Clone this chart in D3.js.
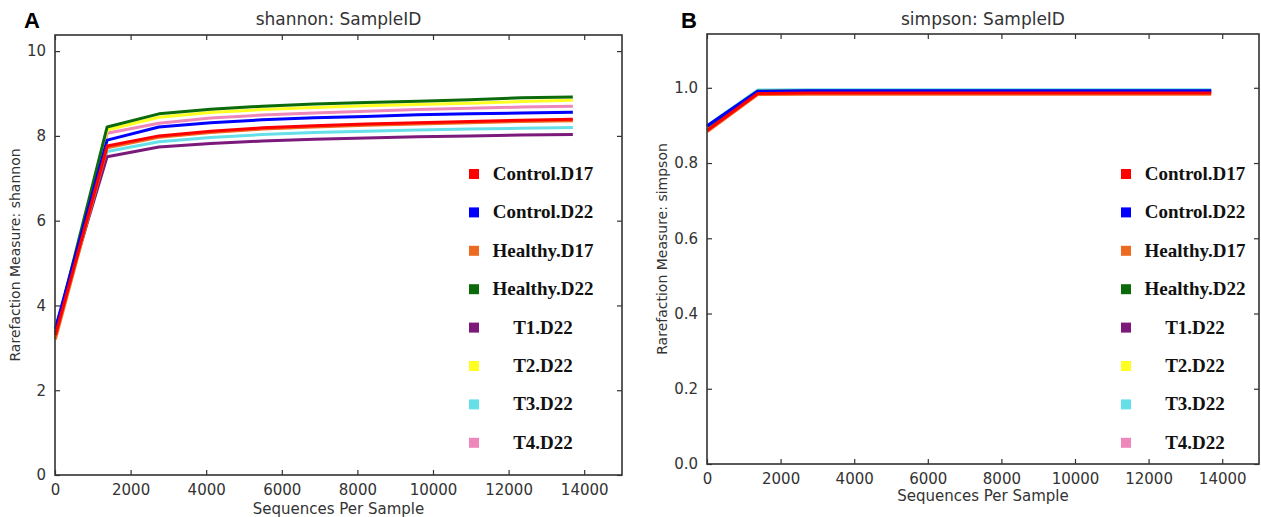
<!DOCTYPE html>
<meta charset="utf-8">
<style>
  body { margin: 0; background: #fff; }
  text { font-family: "DejaVu Sans", sans-serif; }
</style>
<svg width="1261" height="517"></svg>
<script src="https://d3js.org/d3.v7.min.js"></script>
<script>

    // rarefaction depths (x)
    var depths = [10, 1379, 2748, 4117, 5486, 6855, 8224, 9593, 10962, 12331, 13700];

    var groups = ["Control.D17", "Control.D22", "Healthy.D17", "Healthy.D22", "T1.D22", "T2.D22", "T3.D22", "T4.D22"];
    var colors = ["#ff0000", "#0000ff", "#ee6a20", "#0b6b0b", "#7b1a7b", "#ffff22", "#66e0e8", "#ee88bb"];

    // shannon values per group
    var shannon = [
        [3.30, 7.76, 8.00, 8.11, 8.19, 8.24, 8.28, 8.31, 8.34, 8.37, 8.39],
        [3.45, 7.90, 8.21, 8.31, 8.38, 8.43, 8.46, 8.50, 8.52, 8.54, 8.56],
        [3.20, 7.72, 7.97, 8.08, 8.16, 8.21, 8.25, 8.28, 8.31, 8.34, 8.36],
        [3.35, 8.21, 8.52, 8.63, 8.70, 8.75, 8.79, 8.82, 8.85, 8.90, 8.92],
        [3.45, 7.51, 7.74, 7.82, 7.88, 7.92, 7.95, 7.98, 8.00, 8.02, 8.03],
        [3.30, 8.14, 8.44, 8.55, 8.62, 8.67, 8.71, 8.74, 8.77, 8.81, 8.84],
        [3.30, 7.63, 7.86, 7.96, 8.03, 8.08, 8.11, 8.14, 8.16, 8.18, 8.20],
        [3.35, 8.06, 8.30, 8.42, 8.49, 8.54, 8.58, 8.62, 8.65, 8.68, 8.70]
    ];

    // simpson values per group
    var simpson = [
        [0.887, 0.985, 0.986, 0.986, 0.986, 0.986, 0.986, 0.986, 0.986, 0.986, 0.986],
        [0.899, 0.991, 0.992, 0.992, 0.992, 0.992, 0.992, 0.992, 0.992, 0.992, 0.992],
        [0.884, 0.982, 0.983, 0.983, 0.983, 0.983, 0.983, 0.983, 0.983, 0.983, 0.983],
        [0.898, 0.991, 0.991, 0.991, 0.991, 0.991, 0.991, 0.991, 0.991, 0.991, 0.991],
        [0.898, 0.990, 0.991, 0.991, 0.991, 0.991, 0.991, 0.991, 0.991, 0.991, 0.991],
        [0.897, 0.991, 0.992, 0.992, 0.992, 0.992, 0.992, 0.992, 0.992, 0.992, 0.992],
        [0.900, 0.994, 0.9945, 0.9945, 0.9945, 0.9945, 0.9945, 0.9945, 0.9945, 0.9945, 0.9945],
        [0.896, 0.990, 0.991, 0.991, 0.991, 0.991, 0.991, 0.991, 0.991, 0.991, 0.991]
    ];

    var xTicks = [0, 2000, 4000, 6000, 8000, 10000, 12000, 14000];
    var shannonTicks = [0, 2, 4, 6, 8, 10];
    var simpsonTicks = [0, 0.2, 0.4, 0.6, 0.8, 1.0];

    var svg = d3.select("svg");

    drawPanel({
        letter: "A", letterX: 24,
        left: 55, right: 622, top: 35, bottom: 475,
        yMax: 10.38, yTicks: shannonTicks, yFmt: d3.format("d"),
        values: shannon, title: "shannon: SampleID",
        ylabel: "Rarefaction Measure: shannon", ylabelX: 20,
        xlabelY: 514, legendX: 474, legendTextX: 543
    });

    drawPanel({
        letter: "B", letterX: 681,
        left: 707, right: 1259, top: 34, bottom: 464,
        yMax: 1.143, yTicks: simpsonTicks, yFmt: d3.format(".1f"),
        values: simpson, title: "simpson: SampleID",
        ylabel: "Rarefaction Measure: simpson", ylabelX: 667,
        xlabelY: 501, legendX: 1126, legendTextX: 1195
    });

    function drawPanel(p) {
        var x = d3.scaleLinear().domain([0, 15000]).range([p.left, p.right]);
        var y = d3.scaleLinear().domain([0, p.yMax]).range([p.bottom, p.top]);
        var g = svg.append("g");

        // inward ticks on all four sides
        var axes = [
            [d3.axisBottom(x).tickValues(xTicks).tickFormat(d3.format("d")), p.bottom, 0],
            [d3.axisTop(x).tickValues(xTicks).tickFormat(""), p.top, 0],
            [d3.axisLeft(y).tickValues(p.yTicks).tickFormat(p.yFmt), 0, p.left],
            [d3.axisRight(y).tickValues(p.yTicks).tickFormat(""), 0, p.right]
        ];
        axes.forEach(function(a) {
            var ax = g.append("g")
                .attr("transform", "translate(" + a[2] + "," + a[1] + ")")
                .call(a[0].tickSizeInner(-5).tickSizeOuter(0).tickPadding(9));
            ax.select(".domain").remove();
            ax.selectAll("line").attr("stroke", "#333").attr("stroke-width", 1.2);
            ax.selectAll("text").attr("fill", "#333").style("font-size", "15px")
                .style("font-family", "DejaVu Sans");
        });

        // lines, last group first so Control.D17 ends up on top
        var line = d3.line()
            .x(function(d, i) { return x(depths[i]); })
            .y(function(d) { return y(d); });
        var order = d3.range(groups.length).reverse();
        g.append("g").selectAll("path")
            .data(order)
            .enter().append("path")
            .attr("d", function(k) { return line(p.values[k]); })
            .attr("fill", "none")
            .attr("stroke", function(k) { return colors[k]; })
            .attr("stroke-width", 3)
            .attr("stroke-linejoin", "round");

        // frame
        g.append("rect")
            .attr("x", p.left).attr("y", p.top)
            .attr("width", p.right - p.left).attr("height", p.bottom - p.top)
            .attr("fill", "none").attr("stroke", "#333").attr("stroke-width", 1.6);

        g.append("text").text(p.title)
            .attr("x", (p.left + p.right) / 2).attr("y", 25)
            .attr("text-anchor", "middle").attr("fill", "#333")
            .style("font-size", "17px");
        g.append("text").text(p.letter)
            .attr("x", p.letterX).attr("y", 28)
            .style("font-family", "Liberation Sans").style("font-weight", "bold")
            .style("font-size", "22px").attr("fill", "#000");
        g.append("text").text(p.ylabel)
            .attr("transform", "translate(" + p.ylabelX + "," + (p.top + p.bottom) / 2 + ") rotate(-90)")
            .attr("text-anchor", "middle").attr("fill", "#333")
            .style("font-size", "14px");
        g.append("text").text("Sequences Per Sample")
            .attr("x", (p.left + p.right) / 2).attr("y", p.xlabelY)
            .attr("text-anchor", "middle").attr("fill", "#333")
            .style("font-size", "15px");

        // legend
        var leg = g.append("g").selectAll("g")
            .data(groups)
            .enter().append("g")
            .attr("transform", function(d, i) { return "translate(0," + (174 + i * 38.4) + ")"; });
        leg.append("rect")
            .attr("x", p.legendX - 5).attr("y", -5)
            .attr("width", 10).attr("height", 10)
            .attr("fill", function(d, i) { return colors[i]; });
        leg.append("text").text(function(d) { return d; })
            .attr("x", p.legendTextX).attr("y", 6)
            .attr("text-anchor", "middle")
            .style("font-family", "Liberation Serif").style("font-weight", "bold")
            .style("font-size", "19px").attr("fill", "#111");
    }
</script>
